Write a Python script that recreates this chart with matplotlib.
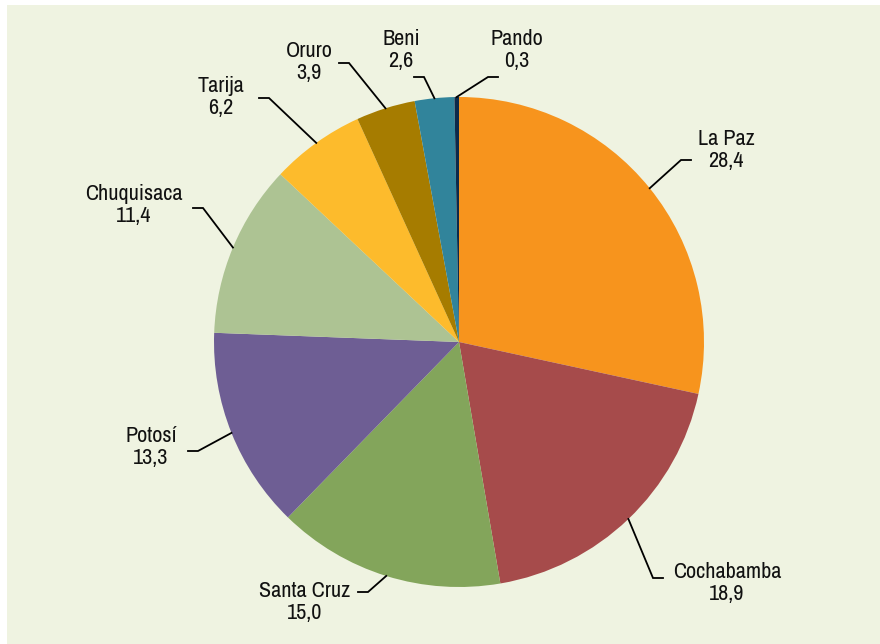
import numpy as np
import matplotlib
matplotlib.use("Agg")
import matplotlib.pyplot as plt
from matplotlib.patches import Rectangle

# datos (%)
departamentos = ['La Paz', 'Cochabamba', 'Santa Cruz', 'Potosí', 'Chuquisaca',
                 'Tarija', 'Oruro', 'Beni', 'Pando']
porcentajes = [28.4, 18.9, 15.0, 13.3, 11.4, 6.2, 3.9, 2.6, 0.3]
colores = ['#F7941D', '#A64B4B', '#83A55B', '#6E5E94', '#ADC393',
           '#FDBB2C', '#A67C00', '#31849B', '#0D2A4A']

# posiciones de etiquetas en pixeles (x, y desde arriba): codo y texto
codos = [(681, 160), (653, 578), (368, 592), (198, 451), (203, 208),
         (269, 98), (349, 63), (424, 77), (488, 77)]
lados = [1, 1, -1, -1, -1, -1, -1, -1, 1]
textos = [(726, 150), (727, 583), (305, 602), (151, 447), (134, 205),
          (221, 97), (309, 62), (401, 50), (517, 50)]

W, H = 880, 644
cx, cy, R = 459, 342, 245

plt.rcParams['font.family'] = ['Archivo Narrow', 'Roboto', 'DejaVu Sans']

fig = plt.figure(figsize=(W / 100, H / 100), dpi=100, facecolor='white')
ax = fig.add_axes([0, 0, 1, 1])

# fondo verde claro
ax.add_patch(Rectangle((7, 0), W - 7, H - 5, facecolor='#EFF3E1', edgecolor='none', zorder=0))

wedges, _ = ax.pie(porcentajes, colors=colores, startangle=90, counterclock=False,
                   center=(cx, H - cy), radius=R, wedgeprops=dict(linewidth=0))
for w in wedges:
    w.set_zorder(2)

# lineas guia y etiquetas
for w, nombre, val, codo, lado, txt in zip(wedges, departamentos, porcentajes, codos, lados, textos):
    ang = np.deg2rad((w.theta1 + w.theta2) / 2)
    x0 = cx + R * np.cos(ang)
    y0 = (H - cy) + R * np.sin(ang)
    ex, ey = codo[0], H - codo[1]
    ax.plot([x0, ex, ex + 10 * lado], [y0, ey, ey], color='black', lw=1.3, zorder=3,
            solid_joinstyle='miter')
    etiqueta = f"{nombre}\n{val:.1f}".replace('.', ',')
    ax.text(txt[0], H - txt[1], etiqueta, ha='center', va='center', fontsize=16,
            linespacing=1.1, color='#111111', zorder=4)

ax.set_xlim(0, W)
ax.set_ylim(0, H)
ax.set_aspect('equal')
ax.axis('off')

fig.savefig('out.png', dpi=100, facecolor='white')
